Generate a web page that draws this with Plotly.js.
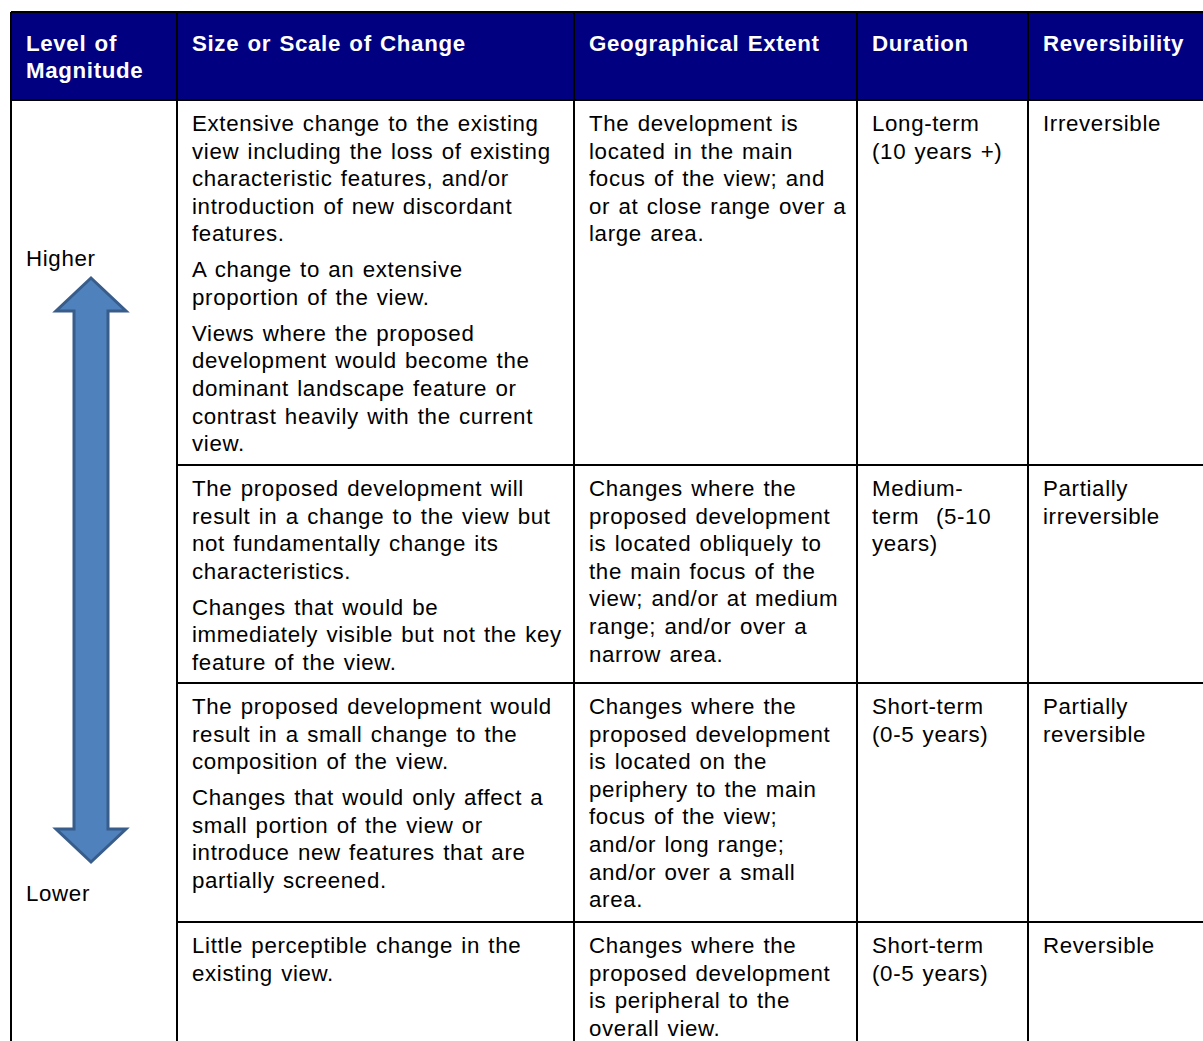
<!DOCTYPE html>
<html>
<head>
<meta charset="utf-8">
<script src="https://cdn.plot.ly/plotly-3.0.1.min.js"></script>
<style>
html,body{margin:0;padding:0;background:#fff;}
#chart{width:1203px;height:1041px;}
#chart .textpoint text{letter-spacing:0.65px;word-spacing:1.5px;}
</style>
</head>
<body>
<div id="chart"></div>
<script>
// ---- DATA ----
const headerLabels = [
  ["Level of", "Magnitude"],
  ["Size or Scale of Change"],
  ["Geographical Extent"],
  ["Duration"],
  ["Reversibility"]
];
const levelLabels = ["Higher", "Lower"];

// each row: list of paragraphs, each paragraph: list of lines
const sizeCol = [
  [["Extensive change to the existing", "view including the loss of existing", "characteristic features, and/or", "introduction of new discordant", "features."],
   ["A change to an extensive", "proportion of the view."],
   ["Views where the proposed", "development would become the", "dominant landscape feature or", "contrast heavily with the current", "view."]],
  [["The proposed development will", "result in a change to the view but", "not fundamentally change its", "characteristics."],
   ["Changes that would be", "immediately visible but not the key", "feature of the view."]],
  [["The proposed development would", "result in a small change to the", "composition of the view."],
   ["Changes that would only affect a", "small portion of the view or", "introduce new features that are", "partially screened."]],
  [["Little perceptible change in the", "existing view."]]
];
const extentCol = [
  [["The development is", "located in the main", "focus of the view; and", "or at close range over a", "large area."]],
  [["Changes where the", "proposed development", "is located obliquely to", "the main focus of the", "view; and/or at medium", "range; and/or over a", "narrow area."]],
  [["Changes where the", "proposed development", "is located on the", "periphery to the main", "focus of the view;", "and/or long range;", "and/or over a small", "area."]],
  [["Changes where the", "proposed development", "is peripheral to the", "overall view."]]
];
const durationCol = [
  [["Long-term", "(10 years +)"]],
  [["Medium-", "term  (5-10", "years)"]],
  [["Short-term", "(0-5 years)"]],
  [["Short-term", "(0-5 years)"]]
];
const reversibilityCol = [
  [["Irreversible"]],
  [["Partially", "irreversible"]],
  [["Partially", "reversible"]],
  [["Reversible"]]
];

// ---- LAYOUT CONSTANTS ----
const W = 1203, H = 1041;
const colEdges = [11, 177, 574, 857, 1028, 1220];
const rowEdges = [12, 100, 465, 683, 922, 1070];
const padX = 15;
const firstLineOffset = 25.5;
const lineH = 27.6;
const paraGap = 8.3;
const headerLineY = [45.5, 72.5];
const levelY = [260.5, 895.5];
const fontFamily = "Liberation Sans, Arial, sans-serif";
const fontSize = 22.3;

// ---- BUILD TEXT POSITIONS ----
const bodyCols = [sizeCol, extentCol, durationCol, reversibilityCol];
const bx = [], by = [], bt = [];
bodyCols.forEach((col, ci) => {
  col.forEach((cell, ri) => {
    let y = rowEdges[ri + 1] + firstLineOffset;
    cell.forEach((para, pi) => {
      if (pi > 0) y += paraGap;
      para.forEach(line => {
        bx.push(colEdges[ci + 1] + padX);
        by.push(y);
        bt.push(line);
        y += lineH;
      });
    });
  });
});
const hx = [], hy = [], ht = [];
headerLabels.forEach((lines, ci) => {
  lines.forEach((line, li) => {
    hx.push(colEdges[ci] + padX);
    hy.push(headerLineY[li]);
    ht.push(line);
  });
});
const lx = levelLabels.map(() => colEdges[0] + padX);

const traces = [
  {type: "scatter", mode: "text", x: hx, y: hy, text: ht, textposition: "middle right",
   textfont: {family: fontFamily, size: fontSize, color: "#ffffff", weight: "bold"},
   hoverinfo: "skip", showlegend: false, cliponaxis: false},
  {type: "scatter", mode: "text", x: bx, y: by, text: bt, textposition: "middle right",
   textfont: {family: fontFamily, size: fontSize, color: "#000000"},
   hoverinfo: "skip", showlegend: false, cliponaxis: false},
  {type: "scatter", mode: "text", x: lx, y: levelY, text: levelLabels, textposition: "middle right",
   textfont: {family: fontFamily, size: fontSize, color: "#000000"},
   hoverinfo: "skip", showlegend: false, cliponaxis: false}
];

// ---- SHAPES ----
const shapes = [];
shapes.push({type: "rect", xref: "x", yref: "y", x0: colEdges[0], x1: colEdges[colEdges.length - 1],
  y0: rowEdges[0], y1: rowEdges[1], fillcolor: "#000080", line: {width: 0}, layer: "below"});
colEdges.slice(0, -1).forEach(x => {
  shapes.push({type: "line", xref: "x", yref: "y", x0: x, x1: x, y0: rowEdges[0], y1: rowEdges[rowEdges.length - 1],
    line: {color: "#000", width: 2}});
});
[rowEdges[0], rowEdges[1]].forEach(y => {
  shapes.push({type: "line", xref: "x", yref: "y", x0: colEdges[0], x1: colEdges[colEdges.length - 1], y0: y, y1: y,
    line: {color: "#000", width: 2}});
});
rowEdges.slice(2, -1).forEach(y => {
  shapes.push({type: "line", xref: "x", yref: "y", x0: colEdges[1], x1: colEdges[colEdges.length - 1], y0: y, y1: y,
    line: {color: "#000", width: 2}});
});
const ax = 91, headHalf = 35, shaftHalf = 17, tipTop = 278, headTop = 311, headBot = 829, tipBot = 862;
const arrowPath = `M ${ax} ${tipTop} L ${ax + headHalf} ${headTop} L ${ax + shaftHalf} ${headTop} L ${ax + shaftHalf} ${headBot} ` +
  `L ${ax + headHalf} ${headBot} L ${ax} ${tipBot} L ${ax - headHalf} ${headBot} L ${ax - shaftHalf} ${headBot} ` +
  `L ${ax - shaftHalf} ${headTop} L ${ax - headHalf} ${headTop} Z`;
shapes.push({type: "path", xref: "x", yref: "y", path: arrowPath, fillcolor: "#4F81BD",
  line: {color: "#385D8A", width: 3}});

const layout = {
  width: W, height: H,
  margin: {l: 0, r: 0, t: 0, b: 0},
  paper_bgcolor: "#ffffff", plot_bgcolor: "#ffffff",
  xaxis: {range: [0, W], visible: false, fixedrange: true},
  yaxis: {range: [H, 0], visible: false, fixedrange: true},
  shapes: shapes,
  showlegend: false
};
Plotly.newPlot("chart", traces, layout, {displayModeBar: false, staticPlot: true});
</script>
</body>
</html>
